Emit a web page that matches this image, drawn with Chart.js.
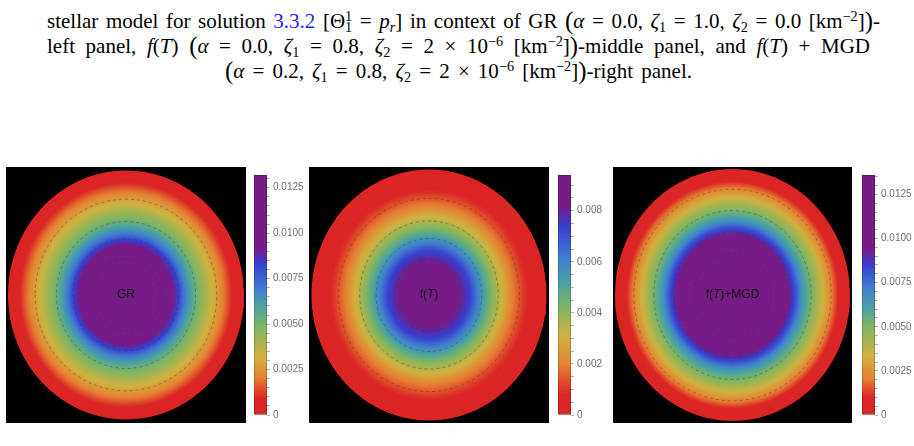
<!DOCTYPE html>
<html><head><meta charset="utf-8">
<script src="https://cdn.jsdelivr.net/npm/chart.js@4.4.1/dist/chart.umd.min.js"></script>
<style>
html,body{margin:0;padding:0;background:#fff}
body{width:914px;height:446px;position:relative;overflow:hidden}
.cap{position:absolute;font-family:'Liberation Serif','DejaVu Serif',serif;font-size:21px;line-height:25px;color:#000;white-space:nowrap}
.cap sup,.cap sub{font-size:0.68em;line-height:0;position:relative;vertical-align:baseline}
.cap sup{top:-0.5em}
.cap sub{top:0.28em}
.cap .bg{font-size:1.18em;position:relative;top:0.04em}
.blue{color:#1f1fff}
canvas{position:absolute;display:block}
</style></head><body>
<div class="cap" id="l1" style="left:47px;top:7px">stellar model for solution <span class="blue">3.3.2</span> [Θ<sup>1</sup><sub style="margin-left:-0.5em">1</sub> = <i>p</i><sub><i>r</i></sub>] in context of GR <span class="bg">(</span><i>α</i> = 0.0, <i>ζ</i><sub>1</sub> = 1.0, <i>ζ</i><sub>2</sub> = 0.0 [km<sup>−2</sup>]<span class="bg">)</span>-</div>
<div class="cap" id="l2" style="left:47px;top:32px">left panel, <i>f</i>(<i>T</i>) <span class="bg">(</span><i>α</i> = 0.0, <i>ζ</i><sub>1</sub> = 0.8, <i>ζ</i><sub>2</sub> = 2 × 10<sup>−6</sup> [km<sup>−2</sup>]<span class="bg">)</span>-middle panel, and <i>f</i>(<i>T</i>) + MGD</div>
<div class="cap" id="l3" style="left:225px;top:57px"><span class="bg">(</span><i>α</i> = 0.2, <i>ζ</i><sub>1</sub> = 0.8, <i>ζ</i><sub>2</sub> = 2 × 10<sup>−6</sup> [km<sup>−2</sup>]<span class="bg">)</span>-right panel.</div>

<canvas id="d1" width="240" height="256" style="left:6px;top:167px"></canvas>
<canvas id="d2" width="240" height="256" style="left:309px;top:167px"></canvas>
<canvas id="d3" width="239" height="256" style="left:613px;top:167px"></canvas>
<canvas id="c1" width="58" height="258" style="left:254px;top:166px"></canvas>
<canvas id="c2" width="58" height="258" style="left:558px;top:166px"></canvas>
<canvas id="c3" width="52" height="258" style="left:862px;top:166px"></canvas>

<script>
// ---------------- DATA ----------------
const radius     = [0, 0.1, 0.2, 0.3, 0.35, 0.4, 0.45, 0.5, 0.55, 0.6, 0.65, 0.7, 0.75, 0.8, 0.85, 0.9, 0.95, 1.0];
const densityGR  = [0.0132, 0.0130, 0.0124, 0.0112, 0.0102, 0.0092, 0.0081, 0.0069, 0.0060, 0.0051, 0.0044, 0.0037, 0.0030, 0.0024, 0.0017, 0.0009, 0.0004, 0];
const densityFT  = [0.0094, 0.0092, 0.0087, 0.0078, 0.0073, 0.0064, 0.0055, 0.0047, 0.0040, 0.0034, 0.0028, 0.0021, 0.0016, 0.0011, 0.0007, 0.0004, 0.0002, 0];
const densityMGD = [0.0136, 0.0135, 0.0131, 0.0124, 0.0118, 0.0110, 0.0100, 0.0089, 0.0078, 0.0064, 0.0055, 0.0047, 0.0038, 0.0029, 0.0020, 0.0010, 0.0004, 0];
const contoursGR  = [0.29, 0.45, 0.59, 0.77];
const contoursFT  = [0.29, 0.45, 0.59, 0.77];
const contoursMGD = [0.33, 0.50, 0.67, 0.84];
const barMaxGR = 0.0132, barMaxFT = 0.0094, barMaxMGD = 0.0136;
const tickValuesGR  = [0, 0.0025, 0.005, 0.0075, 0.01, 0.0125];
const tickLabelsGR  = ['0', '0.0025', '0.0050', '0.0075', '0.0100', '0.0125'];
const tickValuesFT  = [0, 0.002, 0.004, 0.006, 0.008];
const tickLabelsFT  = ['0', '0.002', '0.004', '0.006', '0.008'];
const tickValuesMGD = [0, 0.0025, 0.005, 0.0075, 0.01, 0.0125];
const tickLabelsMGD = ['0', '0.0025', '0.0050', '0.0075', '0.0100', '0.0125'];
const minorStep = 0.0005;
const labelGR  = [['GR', false]];
const labelFT  = [['f(', false], ['T', true], [')', false]];
const labelMGD = [['f(', false], ['T', true], [')+MGD', false]];

// ---------------- STYLE ----------------
const PAL = {red:[219,38,38], orange:[229,131,52], yellow:[208,178,64], green:[128,182,98],
             teal:[72,160,165], lblue:[66,128,208], blue:[57,62,206], purple:[119,28,135]};
const STOPS_GR  = [[0,'red'],[0.0009,'red'],[0.0021,'orange'],[0.0032,'yellow'],[0.0048,'green'],[0.0061,'teal'],[0.0069,'lblue'],[0.0083,'blue'],[0.0092,'purple']];
const STOPS_FT  = [[0,'red'],[0.0008,'red'],[0.0020,'orange'],[0.0031,'yellow'],[0.0042,'green'],[0.0052,'teal'],[0.0061,'lblue'],[0.0074,'blue'],[0.0082,'purple']];
const STOPS_MGD = [[0,'red'],[0.0010,'red'],[0.0021,'orange'],[0.0034,'yellow'],[0.0050,'green'],[0.0061,'teal'],[0.0072,'lblue'],[0.0085,'blue'],[0.0094,'purple']];

function rgbAt(v, stops) {
  if (v <= stops[0][0]) return PAL[stops[0][1]];
  for (let i = 1; i < stops.length; i++) {
    if (v <= stops[i][0]) {
      const a = stops[i-1], b = stops[i], t = (v - a[0]) / (b[0] - a[0]);
      const ca = PAL[a[1]], cb = PAL[b[1]];
      return ca.map((c, k) => c + (cb[k] - c) * t);
    }
  }
  return PAL[stops[stops.length-1][1]];
}
const css = (c, f=1) => `rgb(${Math.round(c[0]*f)},${Math.round(c[1]*f)},${Math.round(c[2]*f)})`;

function profileAt(r, vals) {
  for (let i = 1; i < radius.length; i++) {
    if (r <= radius[i]) {
      const t = (r - radius[i-1]) / (radius[i] - radius[i-1]);
      return vals[i-1] + (vals[i] - vals[i-1]) * t;
    }
  }
  return vals[vals.length-1];
}

function ellipsePts(r, M, withDiameter) {
  const pts = [];
  for (let j = 0; j <= M; j++) {
    const a = Math.PI + 2 * Math.PI * j / M;
    pts.push({x: r * Math.cos(a), y: r * Math.sin(a)});
  }
  if (withDiameter) pts.push({x: r, y: 0});
  return pts;
}

const bgPlugin = {
  id: 'blackbg',
  beforeDraw(chart) {
    const {ctx, chartArea: a} = chart;
    ctx.save(); ctx.fillStyle = '#000'; ctx.fillRect(a.left, a.top, a.right - a.left, a.bottom - a.top); ctx.restore();
  }
};
const labelPlugin = {
  id: 'centerLabel',
  afterDatasetsDraw(chart, args, opts) {
    const {ctx, scales} = chart;
    const cx = scales.x.getPixelForValue(0), cy = scales.y.getPixelForValue(0);
    const segs = opts.segments || [];
    ctx.save();
    ctx.fillStyle = '#151515';
    ctx.textBaseline = 'middle';
    const fontOf = it => (it ? 'italic ' : '') + '12px "Liberation Sans", Arial, sans-serif';
    let total = 0;
    segs.forEach(s => { ctx.font = fontOf(s[1]); total += ctx.measureText(s[0]).width; });
    let x = cx - total / 2;
    segs.forEach(s => { ctx.font = fontOf(s[1]); ctx.fillText(s[0], x, cy); x += ctx.measureText(s[0]).width; });
    ctx.restore();
  }
};

function makeDisc(id, vals, contours, stops, xr, yr, label) {
  const N = 170, M = 120;
  const datasets = [];
  contours.forEach(r => datasets.push({
    data: ellipsePts(r, M, false), borderColor: 'rgba(50,50,50,0.5)', borderWidth: 0.8,
    borderDash: [3, 3], fill: false, pointRadius: 0
  }));
  for (let k = 0; k < N; k++) {
    const rOut = (k + 1) / N, rMid = (k + 0.5) / N;
    datasets.push({
      data: ellipsePts(rOut, M, true), borderWidth: 0, pointRadius: 0,
      backgroundColor: css(rgbAt(profileAt(rMid, vals), stops)), fill: 'shape'
    });
  }
  new Chart(document.getElementById(id), {
    type: 'line',
    data: {datasets},
    options: {
      responsive: false, animation: false, devicePixelRatio: 1, events: [],
      layout: {padding: 0},
      elements: {line: {tension: 0}, point: {radius: 0}},
      plugins: {legend: {display: false}, tooltip: {enabled: false}, centerLabel: {segments: label}},
      scales: {
        x: {type: 'linear', min: -xr, max: xr, display: false},
        y: {type: 'linear', min: -yr, max: yr, display: false}
      }
    },
    plugins: [bgPlugin, labelPlugin]
  });
}

function makeBar(id, max, tickVals, tickLabels, stops, axisW) {
  const minor = [];
  for (let v = 0; v <= max + 1e-9; v += minorStep) minor.push(+v.toFixed(6));
  const grad = (context, f) => {
    const chart = context.chart, a = chart.chartArea;
    if (!a) return css(PAL.red);
    const ys = chart.scales.y;
    const y0 = ys.getPixelForValue(0), y1 = ys.getPixelForValue(max);
    const g = chart.ctx.createLinearGradient(0, y0, 0, y1);
    stops.forEach(s => { if (s[0] <= max) g.addColorStop(s[0] / max, css(PAL[s[1]], f)); });
    g.addColorStop(1, css(rgbAt(max, stops), f));
    return g;
  };
  new Chart(document.getElementById(id), {
    type: 'bar',
    data: {labels: [''], datasets: [{
      data: [max],
      backgroundColor: c => grad(c, 1),
      borderColor: c => grad(c, 0.72),
      borderWidth: 1, borderSkipped: false,
      categoryPercentage: 1, barPercentage: 1
    }]},
    options: {
      responsive: false, animation: false, devicePixelRatio: 1, events: [],
      layout: {padding: {left: 0, right: 0, top: 6, bottom: 7}},
      plugins: {legend: {display: false}, tooltip: {enabled: false}},
      scales: {
        x: {display: false},
        y: {
          position: 'right', min: 0, max: max,
          afterBuildTicks: s => { s.ticks = minor.map(v => ({value: v})); },
          afterFit: s => { s.width = axisW; },
          ticks: {
            autoSkip: false, padding: 3, color: '#6f6f6f',
            font: {family: '"Liberation Sans", Arial, sans-serif', size: 10},
            callback: v => { const i = tickVals.findIndex(t => Math.abs(t - v) < 1e-7); return i >= 0 ? tickLabels[i] : ''; }
          },
          grid: {drawOnChartArea: false, drawTicks: true, tickLength: 3, color: '#b5b5b5', lineWidth: 1},
          border: {display: false}
        }
      }
    }
  });
}

makeDisc('d1', densityGR,  contoursGR,  STOPS_GR,  120/118,  128/124.5, labelGR);
makeDisc('d2', densityFT,  contoursFT,  STOPS_FT,  120/117.5, 128/125.5, labelFT);
makeDisc('d3', densityMGD, contoursMGD, STOPS_MGD, 119.5/117.5, 128/126, labelMGD);
makeBar('c1', barMaxGR,  tickValuesGR,  tickLabelsGR,  STOPS_GR,  45);
makeBar('c2', barMaxFT,  tickValuesFT,  tickLabelsFT,  STOPS_FT,  45);
makeBar('c3', barMaxMGD, tickValuesMGD, tickLabelsMGD, STOPS_MGD, 39);

// justify caption lines to the reference text widths
function justify(id, width) {
  const el = document.getElementById(id);
  el.style.wordSpacing = '0px';
  const w = el.getBoundingClientRect().width;
  const n = (el.textContent.match(/ /g) || []).length;
  el.style.wordSpacing = ((width - w) / n) + 'px';
}
justify('l1', 833);
justify('l2', 823);
justify('l3', 467);
</script>
</body></html>
